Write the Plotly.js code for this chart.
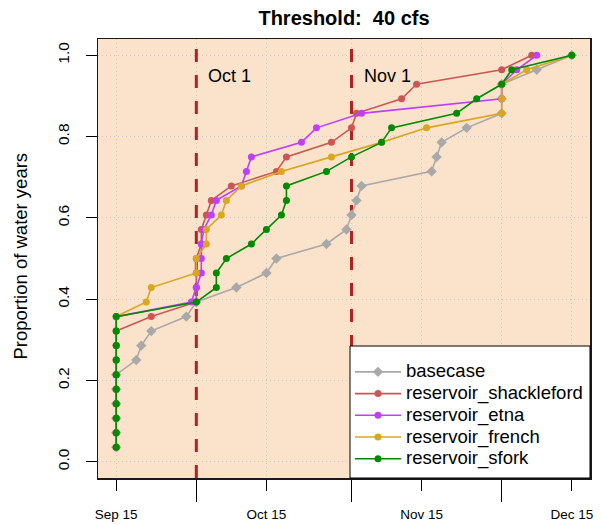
<!DOCTYPE html>
<html>
<head>
<meta charset="utf-8">
<script src="https://cdn.plot.ly/plotly-3.0.1.min.js"></script>
<style>html,body{margin:0;padding:0;background:#fff;}</style>
</head>
<body>
<div id="chart" style="width:602px;height:525px;"></div>
<script>
// Cumulative proportion of water years (28 years) reached at each point
const proportion = [0.0357,0.0714,0.1071,0.1429,0.1786,0.2143,0.25,0.2857,0.3214,0.3571,
  0.3929,0.4286,0.4643,0.5,0.5357,0.5714,0.6071,0.6429,0.6786,0.7143,
  0.75,0.7857,0.8214,0.8571,0.8929,0.9286,0.9643,1.0];

// Days after Sep 15 at which each water year reaches the 40 cfs threshold
const basecaseDays     = [0,0,0,0,0,0,4,5,7,14,16,24,30,32,42,46,47,48,49,63,64,65,70,77,77,77,84,91];
const shacklefordDays  = [0,0,0,0,0,0,0,0,0,7,16,16,16,16,17,17,18,19,23,32,34,43,47,48,57,60,77,83];
const etnaDays         = [0,0,0,0,0,0,0,0,0,0,15,16,17,17,17,17.5,19,20,25,26,27,37,40,49,77,77,80,84];
const frenchDays       = [0,0,0,0,0,0,0,0,0,0,6,7,16,16,18,18,21,22,25,33,43,53,62,77,77,77,82,91];
const sforkDays        = [0,0,0,0,0,0,0,0,0,0,16,20,20,22,27,30,33,34,34,42,47,53,55,68,72,77,79,91];

const seriesNames  = ["basecase","reservoir_shackleford","reservoir_etna","reservoir_french","reservoir_sfork"];
const seriesColors = ["#A9A9A9","#CD5555","#BF3EFF","#DAA520","#008B00"];
const seriesDays   = [basecaseDays, shacklefordDays, etnaDays, frenchDays, sforkDays];

const xTickVals  = [0,30,61,91];
const xTickText  = ["Sep 15","Oct 15","Nov 15","Dec 15"];
const monthStarts = [16,47,77];
const yTickVals  = [0,0.2,0.4,0.6,0.8,1.0];
const yTickText  = ["0.0","0.2","0.4","0.6","0.8","1.0"];
const markerLines = [16,47];
const markerLabels = ["Oct 1","Nov 1"];

const X_RANGE = [-3.64, 94.64];
const Y_RANGE = [-0.04, 1.04];
const FONT = "Liberation Sans, Arial, Helvetica, sans-serif";

// vertical dashed reference lines (drawn first: above grid, below data)
const refTraces = markerLines.map(d=>({
  type:"scatter", mode:"lines", x:[d,d], y:Y_RANGE, showlegend:false, hoverinfo:"skip",
  line:{color:"#B22222", width:3, dash:"13px,13px"}
}));

const traces = seriesNames.map((name,i)=>({
  type:"scatter", mode:"lines+markers",
  name:'<span style="font-size:18.5px">'+name+'</span>',
  x: seriesDays[i], y: proportion,
  line:{color:seriesColors[i], width:1.6},
  marker:{color:seriesColors[i], size: i===0 ? 8 : 7, symbol: i===0 ? "diamond" : "circle"},
  cliponaxis:false
}));

const legendBox = {x0:(350-98)/492, x1:1, y0:0, y1:(478-346)/439};

const shapes = [{
  type:"rect", xref:"paper", yref:"paper",
  x0:legendBox.x0, x1:legendBox.x1, y0:legendBox.y0, y1:legendBox.y1,
  fillcolor:"#FFFFFF", line:{color:"#000", width:1}, layer:"above"
}];

const annotations = markerLines.map((d,i)=>({
  xref:"x", yref:"y", x:d, y:0.95, xshift:10, xanchor:"left", yanchor:"middle",
  text:markerLabels[i], showarrow:false, font:{family:FONT, size:18, color:"#000"}
}));
annotations.push({
  xref:"paper", yref:"paper", x:-0.158, y:0.505, xanchor:"center", yanchor:"middle",
  textangle:-90, text:"Proportion of water years", showarrow:false,
  font:{family:FONT, size:18.5, color:"#000"}
});

const gridStyle = {showgrid:true, gridcolor:"#C8C8C8", griddash:"1px,3px", gridwidth:1};

const layout = {
  width:602, height:525,
  margin:{l:98, r:12, t:39, b:47, pad:0, autoexpand:false},
  paper_bgcolor:"#FFFFFF", plot_bgcolor:"#FAE3CA",
  font:{family:FONT, color:"#000"},
  title:{text:"<b>Threshold:\u00a0 40 cfs</b>", x:0.5, xref:"paper", xanchor:"center",
         y:1-18/525, yref:"container", yanchor:"middle",
         font:{family:FONT, size:20, color:"#000"}},
  xaxis:Object.assign({
    range:X_RANGE, tickmode:"array", tickvals:xTickVals, ticktext:xTickText,
    ticks:"outside", ticklen:11, tickwidth:1, tickcolor:"#000",
    ticklabelstandoff:12, automargin:false,
    tickfont:{family:FONT, size:13.5, color:"#000"},
    showline:true, mirror:true, linecolor:"#1a1a1a", linewidth:1.5, zeroline:false,
    minor:{tickmode:"array", tickvals:monthStarts, ticks:"outside", ticklen:22, tickwidth:1, tickcolor:"#000",
           showgrid:true, gridcolor:"#C8C8C8", griddash:"1px,3px", gridwidth:1}
  }, gridStyle),
  yaxis:Object.assign({
    range:Y_RANGE, tickmode:"array", tickvals:yTickVals, ticktext:yTickText,
    ticks:"outside", ticklen:11, tickwidth:1, tickcolor:"#000", tickangle:-90,
    ticklabelstandoff:10, automargin:false,
    tickfont:{family:FONT, size:15.5, color:"#000"},
    showline:true, mirror:true, linecolor:"#1a1a1a", linewidth:1.5, zeroline:false
  }, gridStyle),
  showlegend:true,
  legend:{x:legendBox.x0, xanchor:"left", y:(478-356)/439, yanchor:"top", xref:"paper", yref:"paper",
          bgcolor:"rgba(0,0,0,0)", borderwidth:0, itemwidth:46,
          font:{family:FONT, size:14.4, color:"#000"}, tracegroupgap:0},
  shapes:shapes, annotations:annotations
};

Plotly.newPlot("chart", refTraces.concat(traces), layout, {displayModeBar:false, staticPlot:true});
</script>
</body>
</html>
